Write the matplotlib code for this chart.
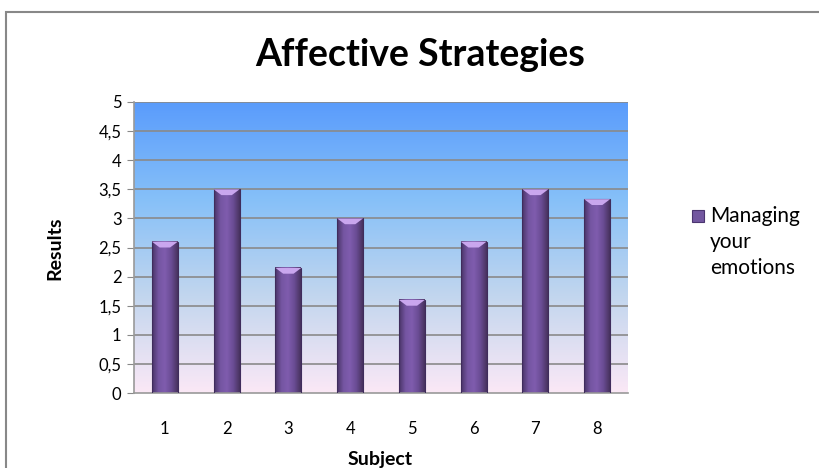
import matplotlib
matplotlib.use('Agg')
import numpy as np
import matplotlib.pyplot as plt
from matplotlib.patches import Rectangle, Polygon
from matplotlib.colors import LinearSegmentedColormap

# data
subjects = ['1', '2', '3', '4', '5', '6', '7', '8']
results = [2.6, 3.5, 2.15, 3.0, 1.6, 2.6, 3.5, 3.33]
series_lines = ['Managing', 'your', 'emotions']
yticks = [0, 0.5, 1, 1.5, 2, 2.5, 3, 3.5, 4, 4.5, 5]
ytick_labels = ['0', '0,5', '1', '1,5', '2', '2,5', '3', '3,5', '4', '4,5', '5']

plt.rcParams['font.family'] = ['Lato', 'DejaVu Sans']

fig = plt.figure(figsize=(8.19, 4.68), dpi=100)
fig.patch.set_facecolor('white')

# outer chart frame (cut off at right and bottom like the screenshot)
fig.patches.append(Rectangle((6/819, -0.2), 1.2, 0.2 + 1 - 12/468, transform=fig.transFigure,
                             fill=False, edgecolor='#888888', linewidth=1.5))

ax = fig.add_axes([134/819, 1 - 393/468, (628 - 134)/819, (393 - 102)/468])

# gradient background in the plot area
bg = LinearSegmentedColormap.from_list('bg', ['#fbe8f6', '#c2d6ee', '#86c0f8', '#5a9cfc'])
grad = np.linspace(0, 1, 256).reshape(-1, 1)
x = np.arange(len(subjects))
ax.imshow(grad, cmap=bg, aspect='auto', origin='lower',
          extent=[-0.5, len(subjects) - 0.5, 0, 5], zorder=0)

for yv in yticks[1:]:
    ax.axhline(yv, color='#8a8a8a', linewidth=1.2, zorder=1)

# bars with a horizontal shade to look like the excel bevel
bar_w = 0.42
shade = LinearSegmentedColormap.from_list('bar', ['#4a3468', '#7556a2', '#7f5cae', '#6a4c94', '#48325f'])
hgrad = np.linspace(0, 1, 64).reshape(1, -1)
for xi, v in zip(x, results):
    ax.imshow(hgrad, cmap=shade, aspect='auto',
              extent=[xi - bar_w/2, xi + bar_w/2, 0, v], zorder=2)
    ax.add_patch(Rectangle((xi - bar_w/2, 0), bar_w, v, fill=False,
                           edgecolor='#3f2c5c', linewidth=0.8, zorder=3))
    ax.add_patch(Polygon([(xi - bar_w/2, v), (xi + bar_w/2, v), (xi + bar_w*0.2, v - 0.1),
                          (xi - bar_w*0.2, v - 0.1)], closed=True,
                         facecolor='#c9a6ee', edgecolor='none', zorder=3))

ax.set_xlim(-0.5, len(subjects) - 0.5)
ax.set_ylim(0, 5)
ax.set_xticks(x)
ax.set_xticklabels(subjects, fontsize=12)
ax.set_yticks(yticks)
ax.set_yticklabels(ytick_labels, fontsize=12)
ax.tick_params(axis='x', length=0, pad=20)
ax.tick_params(axis='y', length=5, color='#888888', direction='out', pad=4)
for s in ['top', 'right']:
    ax.spines[s].set_visible(False)
for s in ['left', 'bottom']:
    ax.spines[s].set_color('#999999')
    ax.spines[s].set_linewidth(1.2)

fig.text(420/819, 1 - 55/468, 'Affective Strategies', fontsize=27, fontweight='bold',
         ha='center', va='center')
fig.text(55/819, 1 - 248/468, 'Results', fontsize=14, fontweight='bold',
         rotation=90, ha='center', va='center')
fig.text(380/819, 1 - 460/468, 'Subject', fontsize=14, fontweight='bold',
         ha='center', va='center')

# legend drawn by hand so the marker sits on the first line
fig.patches.append(Rectangle((692/819, 1 - 222/468), 12/819, 12/468, transform=fig.transFigure,
                             facecolor='#7357a0', edgecolor='#4b3570', linewidth=0.8))
for i, line in enumerate(series_lines):
    fig.text(710/819, 1 - (216 + i*26)/468, line, fontsize=15, ha='left', va='center')

fig.savefig('out.png', dpi=100)
